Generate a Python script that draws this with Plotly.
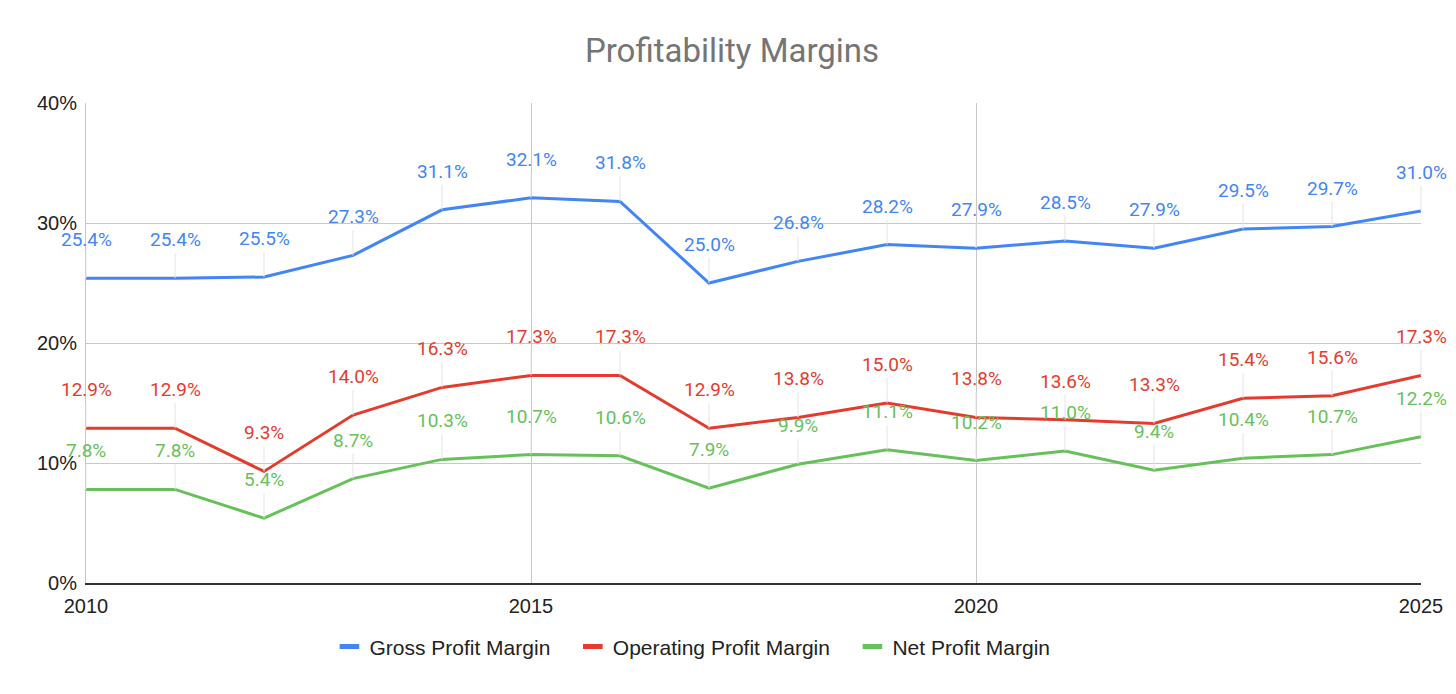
import plotly.graph_objects as go

years = list(range(2010, 2026))
gross = [25.4, 25.4, 25.5, 27.3, 31.1, 32.1, 31.8, 25.0, 26.8, 28.2, 27.9, 28.5, 27.9, 29.5, 29.7, 31.0]
operating = [12.9, 12.9, 9.3, 14.0, 16.3, 17.3, 17.3, 12.9, 13.8, 15.0, 13.8, 13.6, 13.3, 15.4, 15.6, 17.3]
net = [7.8, 7.8, 5.4, 8.7, 10.3, 10.7, 10.6, 7.9, 9.9, 11.1, 10.2, 11.0, 9.4, 10.4, 10.7, 12.2]

series = [
    ("Gross Profit Margin", gross, "#4285F4"),
    ("Operating Profit Margin", operating, "#E53B2D"),
    ("Net Profit Margin", net, "#67C15A"),
]

fig = go.Figure()
annotations = []
for name, vals, color in series:
    fig.add_trace(go.Scatter(x=years, y=vals, name=name, mode="lines", showlegend=False,
                             line=dict(color=color, width=3)))
    # legend-only entry so the key looks like a short thick bar
    fig.add_trace(go.Scatter(x=[None], y=[None], name=name + "\u00a0\u00a0\u00a0", mode="markers",
                             marker=dict(symbol="line-ew", size=14,
                                         line=dict(color=color, width=6))))
    # labels sit above each point with a thin grey leader line
    for x, v in zip(years, vals):
        annotations.append(dict(
            x=x, y=v, xref="x", yref="y", text="%.1f%%" % v,
            showarrow=True, arrowhead=0, arrowwidth=1, arrowcolor="#e3e3e3",
            ax=0, ay=-25, standoff=0, yanchor="bottom",
            font=dict(family="Roboto", size=19, color=color),
        ))

fig.update_layout(
    title=dict(text="Profitability Margins", x=0.5, xanchor="center", y=0.938, yanchor="middle",
               font=dict(family="Roboto", size=33, color="#757575")),
    width=1448, height=678,
    margin=dict(l=78, r=35, t=95, b=103),
    plot_bgcolor="white", paper_bgcolor="white",
    font=dict(family="Liberation Sans", size=20, color="#222"),
    xaxis=dict(range=[2010, 2025], tickvals=[2010, 2015, 2020, 2025],
               showgrid=True, gridcolor="#c8c8c8", gridwidth=1,
               showline=True, linecolor="#333", linewidth=2,
               zeroline=False, ticks="", ticklabelstandoff=4),
    yaxis=dict(range=[0, 40], tickvals=[0, 10, 20, 30, 40],
               ticktext=["0%", "10%", "20%", "30%", "40%"],
               showgrid=True, gridcolor="#c8c8c8", gridwidth=1,
               showline=True, linecolor="#c8c8c8", linewidth=1,
               zeroline=False, ticks="", ticklabelstandoff=4),
    legend=dict(orientation="h", x=0.461, xanchor="center", y=-0.133, yanchor="middle",
                font=dict(family="Liberation Sans", size=21, color="#222"),
                itemwidth=30),
    annotations=annotations,
    showlegend=True,
)

fig.write_html("out.html")
